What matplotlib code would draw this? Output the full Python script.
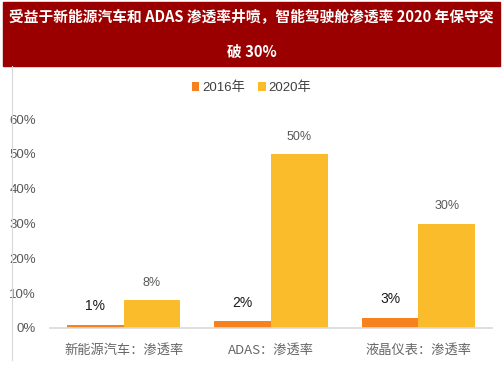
import matplotlib
matplotlib.use("Agg")
import matplotlib.pyplot as plt
import numpy as np
from matplotlib.patches import Rectangle
from matplotlib.lines import Line2D

plt.rcParams['font.family'] = ['Liberation Sans', 'Noto Sans CJK SC', 'DejaVu Sans']

# data
categories = ["新能源汽车：渗透率", "ADAS：渗透率", "液晶仪表：渗透率"]
series_names = ["2016年", "2020年"]
vals_2016 = [0.01, 0.02, 0.03]
vals_2020 = [0.08, 0.50, 0.30]
yticks = [0, 0.1, 0.2, 0.3, 0.4, 0.5, 0.6]

c2016 = "#F5821F"
c2020 = "#FBBC2C"
gray = "#595959"

fig = plt.figure(figsize=(5.03, 3.78), dpi=100)

# title banner
fig.patches.append(Rectangle((3 / 503, 1 - 66 / 378), 497 / 503, 64 / 378,
                             transform=fig.transFigure, color="#9B0000", zorder=0))
fig.text(0.5, 1 - 17 / 378, "受益于新能源汽车和 ADAS 渗透率井喷，智能驾驶舱渗透率 2020 年保守突",
         ha="center", va="center", color="white", fontsize=10.6, fontweight="bold",
         family=["Noto Sans CJK SC", "DejaVu Sans"])
fig.text(0.5, 1 - 52 / 378, "破 30%", ha="center", va="center", color="white",
         fontsize=10.6, fontweight="bold", family=["Noto Sans CJK SC", "DejaVu Sans"])

# left frame line
fig.lines.append(Line2D([12 / 503, 12 / 503], [1 - 66 / 378, 1 - 360 / 378],
                        transform=fig.transFigure, color="#D9D9D9", lw=0.8))

ax = fig.add_axes([50 / 503, 50 / 378, 442 / 503, 209 / 378])
x = np.arange(len(categories))
w = 0.385
b1 = ax.bar(x - w / 2, vals_2016, w, color=c2016, label=series_names[0])
b2 = ax.bar(x + w / 2, vals_2020, w, color=c2020, label=series_names[1])

for xi, v in zip(x - w / 2, vals_2016):
    ax.annotate(f"{v * 100:.0f}%", (xi, v), xytext=(0, 8), textcoords="offset points",
                ha="center", va="bottom", fontsize=10, color="#1a1a1a")
for xi, v in zip(x + w / 2, vals_2020):
    ax.annotate(f"{v * 100:.0f}%", (xi, v), xytext=(0, 8), textcoords="offset points",
                ha="center", va="bottom", fontsize=9, color=gray, fontstretch="condensed")

ax.set_xlim(-0.5, 2.5)
ax.set_ylim(0, 0.6)
ax.set_yticks(yticks)
ax.set_yticklabels([f"{t * 100:.0f}%" for t in yticks], fontsize=9.5, color=gray)
ax.set_xticks(x)
ax.set_xticklabels(categories, fontsize=9.5, color="#666666",
                   family=["Noto Sans CJK SC", "DejaVu Sans"])
ax.tick_params(axis="x", length=0, pad=11)
ax.tick_params(axis="y", length=0, pad=10)
for s in ["top", "right", "left"]:
    ax.spines[s].set_visible(False)
ax.spines["bottom"].set_color("#D9D9D9")
ax.spines["bottom"].set_linewidth(1.2)

leg = fig.legend(handles=[b1, b2], loc="center", bbox_to_anchor=(0.5, 1 - 88 / 378),
                 ncol=2, frameon=False, handlelength=0.6, handleheight=0.6,
                 handletextpad=0.2, columnspacing=1.0,
                 prop={"family": ["Liberation Sans", "Noto Sans CJK SC"], "size": 9.5})
for t in leg.get_texts():
    t.set_color("#404040")

fig.savefig("out.png", dpi=100)
